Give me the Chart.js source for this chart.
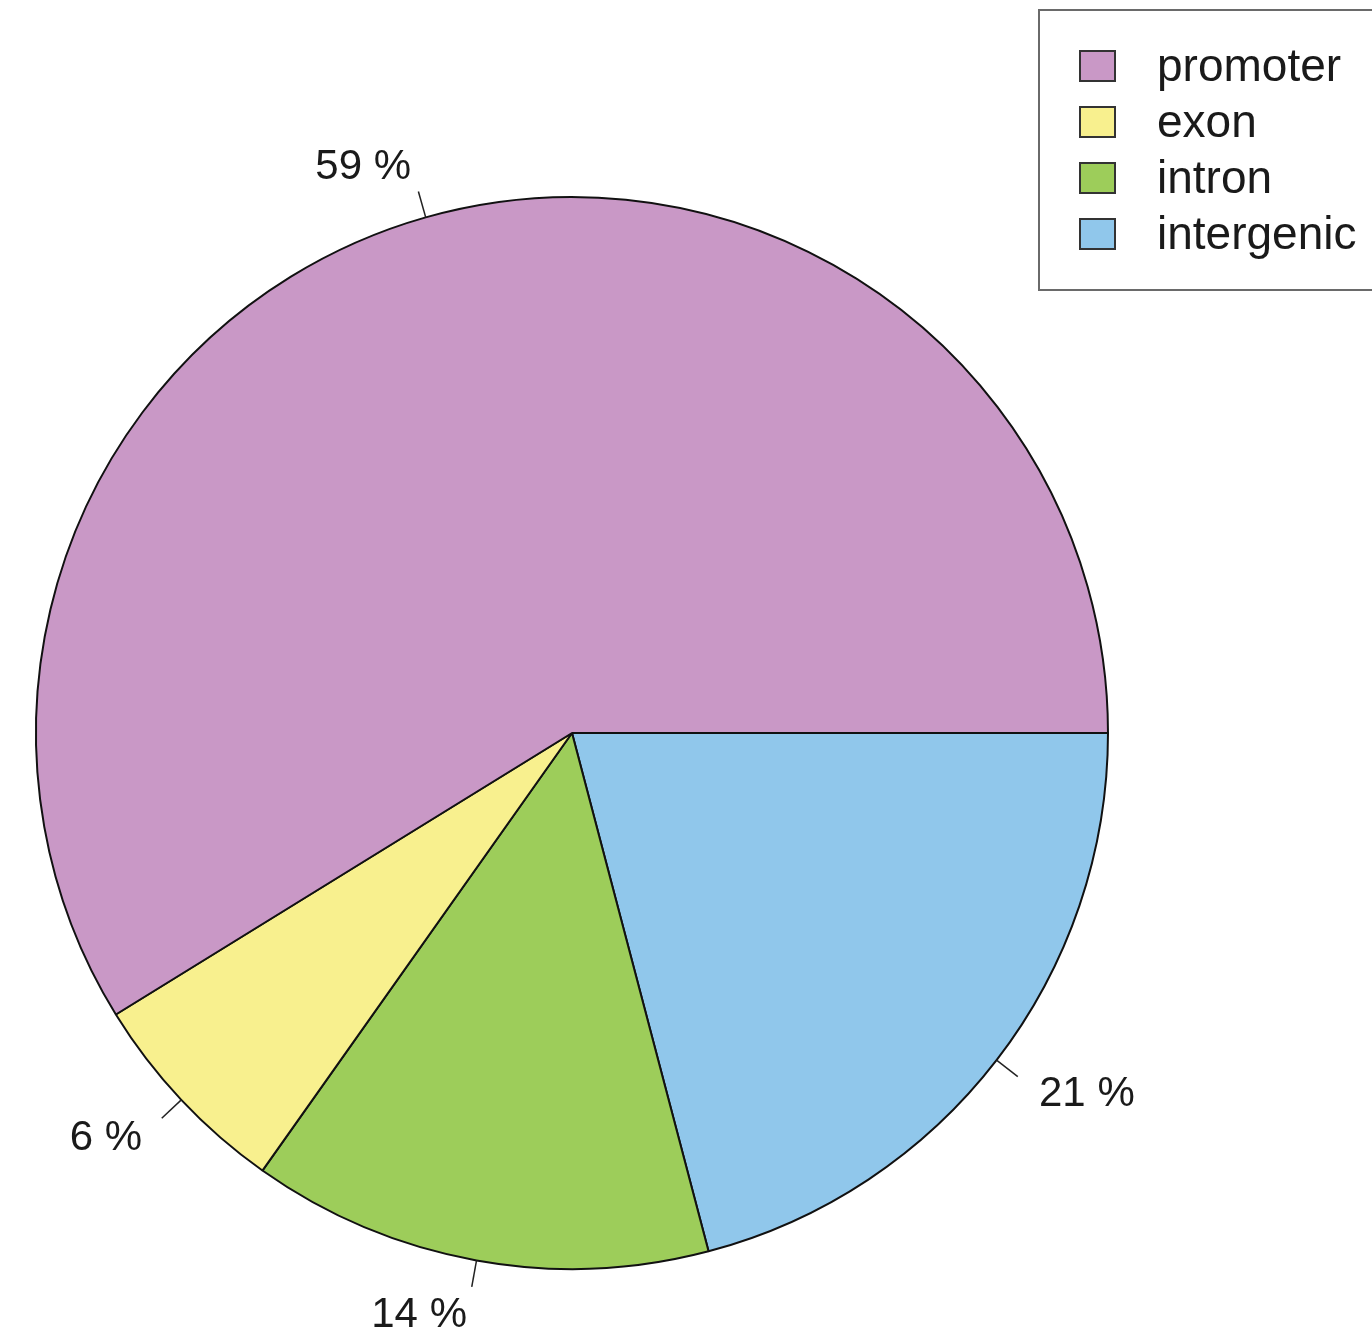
<!DOCTYPE html>
<html>
<head>
<meta charset="utf-8">
<script src="https://cdn.jsdelivr.net/npm/chart.js@4/dist/chart.umd.min.js"></script>
<style>
  body { margin: 0; background: #fff; }
  canvas { display: block; }
</style>
</head>
<body>
<canvas id="pieChart" width="1372" height="1343"></canvas>
<script>
var categories = ['promoter', 'exon', 'intron', 'intergenic'];
var shares = [58.8, 6.4, 13.9, 20.9];
var colours = ['#C998C6', '#F8F08E', '#9DCD5A', '#90C7EB'];

// R draws counter-clockwise from 3 o'clock, Chart.js clockwise -> reverse order
var drawLabels = categories.slice().reverse();
var drawValues = shares.slice().reverse();
var drawColours = colours.slice().reverse();

var fontFamily = '"Liberation Sans", Arial, sans-serif';

var percentLabels = {
    id: 'percentLabels',
    afterDatasetsDraw: function (chart) {
        var ctx = chart.ctx;
        var arcs = chart.getDatasetMeta(0).data;
        ctx.save();
        ctx.strokeStyle = '#222';
        ctx.lineWidth = 1.5;
        ctx.fillStyle = '#1a1a1a';
        ctx.font = '42px ' + fontFamily;
        ctx.textBaseline = 'middle';
        for (var i = 0; i < arcs.length; i++) {
            var a = arcs[i];
            var mid = (a.startAngle + a.endAngle) / 2;
            var r = a.outerRadius;
            var c = Math.cos(mid), s = Math.sin(mid);
            ctx.beginPath();
            ctx.moveTo(a.x + c * r, a.y + s * r);
            ctx.lineTo(a.x + c * r * 1.05, a.y + s * r * 1.05);
            ctx.stroke();
            ctx.textAlign = c < 0 ? 'right' : 'left';
            ctx.fillText(Math.round(drawValues[i]) + ' %', a.x + c * r * 1.1, a.y + s * r * 1.1 + 2);
        }
        ctx.restore();
    }
};

var boxLegend = {
    id: 'boxLegend',
    afterDraw: function (chart) {
        var ctx = chart.ctx;
        ctx.save();
        ctx.strokeStyle = '#6a6a6a';
        ctx.lineWidth = 2;
        ctx.strokeRect(1039, 10, 400, 280);
        ctx.font = '46px ' + fontFamily;
        ctx.textAlign = 'left';
        ctx.textBaseline = 'middle';
        for (var i = 0; i < categories.length; i++) {
            var y = 66 + i * 56;
            ctx.fillStyle = colours[i];
            ctx.fillRect(1080, y - 15, 35, 30);
            ctx.strokeStyle = '#333';
            ctx.lineWidth = 2;
            ctx.strokeRect(1080, y - 15, 35, 30);
            ctx.fillStyle = '#1a1a1a';
            ctx.fillText(categories[i], 1157, y + 2);
        }
        ctx.restore();
    }
};

new Chart(document.getElementById('pieChart'), {
    type: 'pie',
    data: {
        labels: drawLabels,
        datasets: [{
            data: drawValues,
            backgroundColor: drawColours,
            borderColor: '#111',
            borderWidth: 2,
            hoverOffset: 0
        }]
    },
    options: {
        responsive: false,
        animation: false,
        rotation: 90,
        layout: { padding: { left: 35, right: 263, top: 196, bottom: 73 } },
        plugins: {
            legend: { display: false },
            tooltip: { enabled: false }
        }
    },
    plugins: [percentLabels, boxLegend]
});
</script>
</body>
</html>
